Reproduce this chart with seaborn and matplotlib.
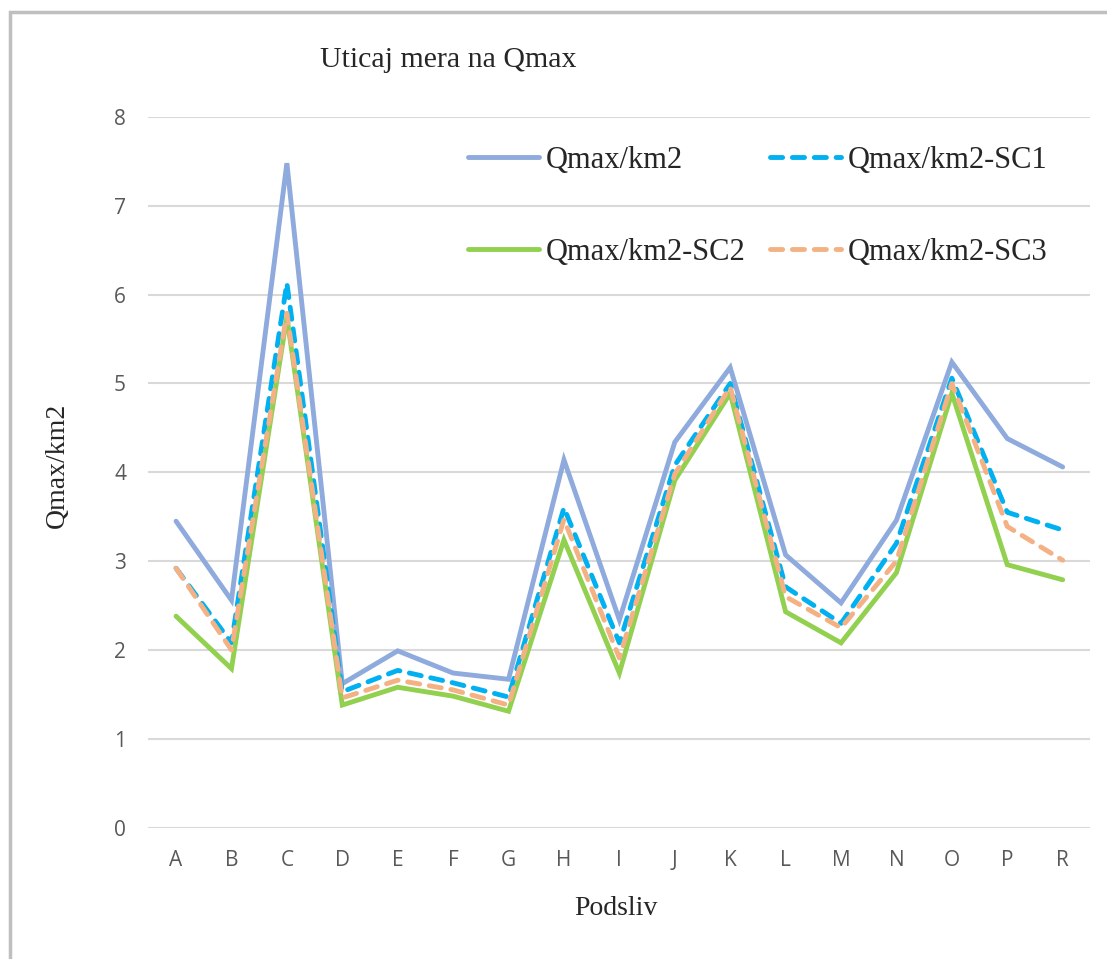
import matplotlib
matplotlib.use("Agg")
import matplotlib.pyplot as plt
import seaborn as sns
import pandas as pd
from matplotlib.patches import Rectangle

# podaci ocitani sa grafika
podsliv = ['A', 'B', 'C', 'D', 'E', 'F', 'G', 'H', 'I', 'J', 'K', 'L', 'M', 'N', 'O', 'P', 'R']
qmax = [3.45, 2.56, 7.48, 1.62, 1.99, 1.74, 1.67, 4.14, 2.34, 4.34, 5.18, 3.07, 2.53, 3.46, 5.24, 4.38, 4.06]
qmax_sc1 = [2.92, 2.08, 6.13, 1.53, 1.77, 1.63, 1.47, 3.60, 2.08, 4.08, 5.00, 2.71, 2.30, 3.20, 5.06, 3.55, 3.35]
qmax_sc2 = [2.38, 1.79, 5.75, 1.38, 1.58, 1.48, 1.31, 3.24, 1.74, 3.91, 4.89, 2.43, 2.08, 2.87, 4.89, 2.96, 2.79]
qmax_sc3 = [2.92, 2.00, 5.79, 1.46, 1.66, 1.55, 1.38, 3.47, 1.91, 3.98, 4.96, 2.60, 2.25, 3.00, 5.00, 3.39, 3.01]

serije = ['Qmax/km2', 'Qmax/km2-SC1', 'Qmax/km2-SC2', 'Qmax/km2-SC3']
boje = ['#8faadc', '#00b0f0', '#92d050', '#f4b183']

df = pd.DataFrame({'Podsliv': podsliv * 4,
                   'Vrednost': qmax + qmax_sc1 + qmax_sc2 + qmax_sc3,
                   'Serija': [s for s in serije for _ in podsliv]})

sns.set_style('white')
plt.rcParams['lines.solid_capstyle'] = 'round'
plt.rcParams['lines.dash_capstyle'] = 'round'
plt.rcParams['lines.solid_joinstyle'] = 'miter'

fig = plt.figure(figsize=(11.07, 9.59), dpi=100)
ax = fig.add_axes([0.134, 0.137, 0.851, 0.741])

crtice = {'Qmax/km2': '', 'Qmax/km2-SC1': (2.5, 2.0),
          'Qmax/km2-SC2': '', 'Qmax/km2-SC3': (2.5, 2.0)}
sns.lineplot(data=df, x='Podsliv', y='Vrednost', hue='Serija', style='Serija',
             palette=dict(zip(serije, boje)), dashes=crtice, linewidth=3.5,
             sort=False, ax=ax)

ax.set_xlim(-0.5, 16.5)
ax.set_ylim(0, 8)
ax.set_yticks(range(0, 9))
ax.yaxis.grid(True, color='#d9d9d9', linewidth=1.5)
ax.set_axisbelow(True)
for s in ax.spines.values():
    s.set_visible(False)
ax.tick_params(axis='both', length=0, labelsize=15, labelcolor='#595959', pad=16)
for lbl in ax.get_xticklabels() + ax.get_yticklabels():
    lbl.set_fontfamily('Open Sans')

ax.set_xlabel('')
ax.set_ylabel('')
fig.text(0.556, 0.053, 'Podsliv', ha='center', va='center', fontsize=20, family='Liberation Serif')
fig.text(0.052, 0.515, 'Qmax/km2', ha='center', va='center', rotation=90, fontsize=20, family='Liberation Serif')
fig.text(0.405, 0.937, 'Uticaj mera na Qmax', ha='center', va='center', fontsize=21.5, family='Liberation Serif')

# legenda popunjena po redovima kao u originalu
h, l = ax.get_legend_handles_labels()
red = [0, 2, 1, 3]
ax.legend([h[i] for i in red], [l[i] for i in red], ncol=2, frameon=False, loc='upper left',
          bbox_to_anchor=(0.409, 0.864), bbox_transform=fig.transFigure,
          prop={'family': 'Liberation Serif', 'size': 22},
          handlelength=2.32, handletextpad=0.23, columnspacing=0.8, labelspacing=2.07, borderpad=0)

# okvir grafika
fig.patches.append(Rectangle((10 / 1107, -0.1), 1.2, 1 - 12 / 959 + 0.1, transform=fig.transFigure,
                             fill=False, edgecolor='#bfbfbf', linewidth=2.5))

fig.savefig('out.png', dpi=100)
